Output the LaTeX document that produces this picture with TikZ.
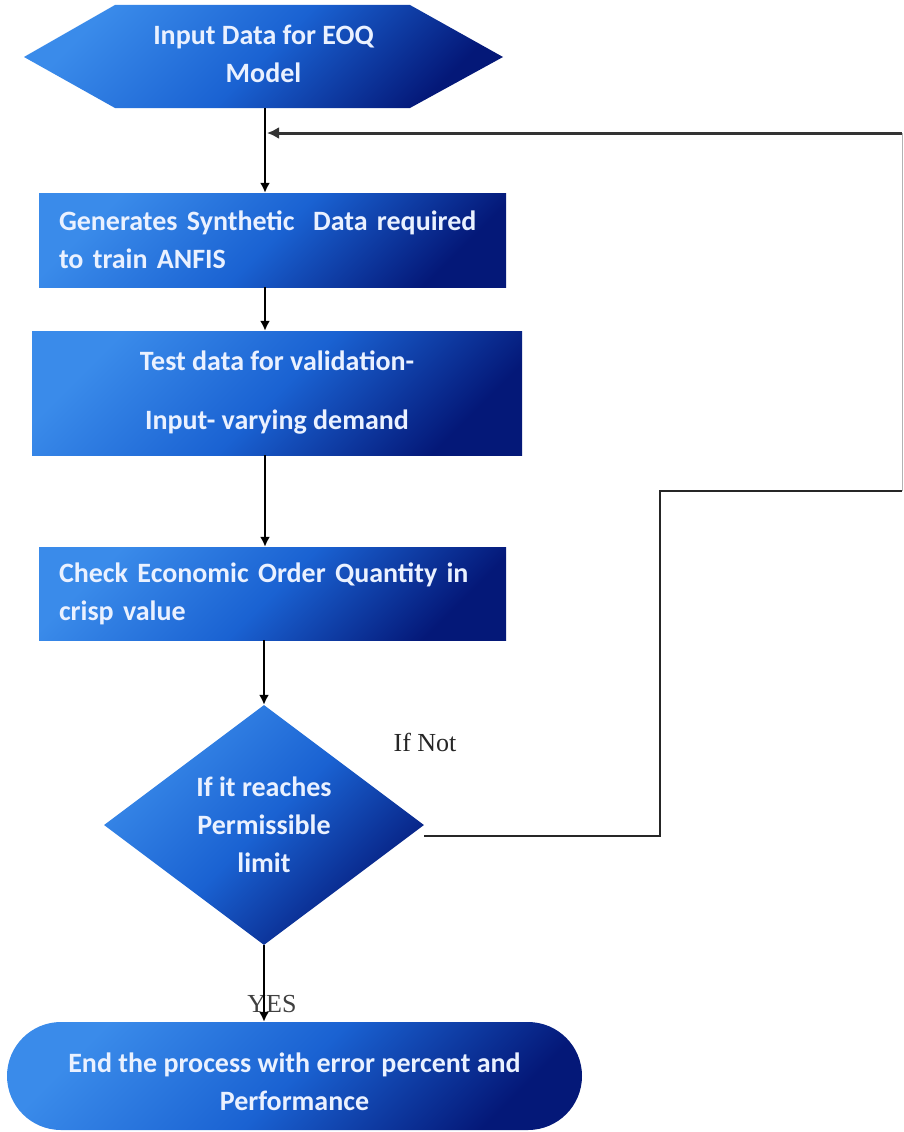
\documentclass[tikz,border=0pt]{standalone}
\usepackage{fontspec}
\newfontfamily\boxfont{Carlito}
\newfontfamily\labfont{Liberation Serif}
\usetikzlibrary{shapes.geometric,arrows.meta,calc}
\definecolor{cA}{HTML}{3A8BEA}
\definecolor{cB}{HTML}{1A62D2}
\definecolor{cC}{HTML}{041878}
\definecolor{txt}{HTML}{EAF1FF}
\tikzset{
  blueshade/.style={shading=axis, top color=cA, bottom color=cC, middle color=cB, shading angle=45},
  boxtext/.style={font=\boxfont\bfseries\fontsize{28}{38}\selectfont, text=txt},
  procbox/.style={rectangle, blueshade, boxtext, inner sep=0pt},
  flow/.style={draw=black, line width=2pt, -{Latex[length=10pt,width=10pt]}},
  lab/.style={font=\labfont\fontsize{26}{30}\selectfont, text=black!85},
}
\begin{document}
\begin{tikzpicture}[x=1pt,y=-1pt]
\useasboundingbox (0,0) rectangle (904,1132);
\fill[white] (0,0) rectangle (904,1132);
% hexagon
\shade[blueshade] (24,57) -- (115,5) -- (410,5) -- (503,57) -- (410,108) -- (115,108) -- cycle;
\node[boxtext, minimum width=479pt, minimum height=108pt, inner sep=0pt, align=center] (hex) at (263.5,54) {Input Data for EOQ\\Model};
% boxes
\node[procbox, minimum width=467pt, minimum height=94pt, text width=427pt, align=left] (b1) at (272.5,240) {Generates Synthetic\ \ Data required\\to train ANFIS};
\node[procbox, minimum width=490pt, minimum height=124pt, align=center] (b2) at (277,393) {Test data for validation-\\[21pt]Input- varying demand};
\node[procbox, minimum width=467pt, minimum height=93pt, text width=427pt, align=left] (b3) at (272.5,593.5) {Check Economic Order Quantity in\\crisp value};
% decision
\node[diamond, blueshade, boxtext, minimum width=320pt, minimum height=240pt, inner sep=0pt, align=center] (dia) at (264,825) {If it reaches\\Permissible\\limit};
% terminal
\node[rectangle, rounded corners=54pt, blueshade, boxtext, minimum width=575pt, minimum height=108pt, align=center] (endn) at (294.5,1076) {\raisebox{-8pt}[\height][\depth]{\begin{tabular}{@{}c@{}}End the process with error percent and\\Performance\end{tabular}}};
% labels
\node[lab] (ifnot) at (425,742) {If Not};
\node[lab, text=black!75] (yes) at (272,1004) {YES};
% feedback coordinates
\coordinate (fb1) at (660,836);
\coordinate (fb2) at (660,491);
\coordinate (fb3) at (902,491);
\coordinate (fb4) at (902,133);
\coordinate (join) at (267,133);
% main flow
\draw[flow] (hex.south -| 265,0) -- (b1.north -| 265,0);
\draw[flow] (b1.south -| 265,0) -- (b2.north -| 265,0);
\draw[flow] (b2.south -| 265,0) -- (b3.north -| 265,0);
\draw[flow] (b3.south -| dia.north) -- (dia.north);
\draw[flow] (dia.south) -- (endn.north -| dia.south);
% feedback loop
\draw[line width=1.6pt, black!85] (dia.east |- fb1) -- (fb1) -- (fb2) -- (fb3);
\draw[line width=1pt, black!30] (fb3) -- (fb4);
\draw[line width=3pt, black!80, -{Latex[length=12pt,width=12pt]}] (fb4) -- (join);
\end{tikzpicture}
\end{document}
